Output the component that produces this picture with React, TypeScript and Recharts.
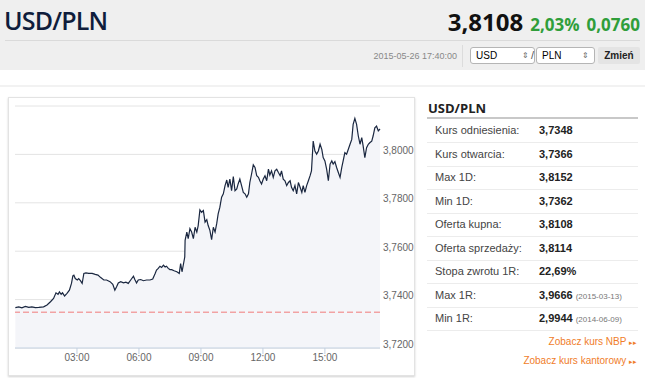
import React from 'react';
import { ComposedChart, Area, XAxis, YAxis, CartesianGrid, ReferenceLine } from 'recharts';

// minutes since 00:00
const minutes = [
  1, 11, 20, 30, 40, 49, 59, 69, 83, 93, 103, 112, 119, 125, 129, 134, 138, 144, 151, 158,
  164, 168, 171, 175, 181, 185, 190, 195, 197, 200, 206, 214, 224, 233, 241, 248, 258, 266, 276, 284,
  290, 295, 300, 307, 315, 322, 329, 336, 344, 348, 353, 358, 365, 373, 382, 392, 400, 407, 411, 416,
  421, 426, 431, 436, 440, 445, 450, 455, 462, 470, 477, 481, 485, 489, 493, 494, 499, 503, 508, 513,
  518, 523, 528, 532, 537, 542, 547, 552, 557, 561, 566, 571, 576, 581, 586, 590, 595, 600, 605, 610,
  615, 619, 624, 629, 634, 639, 644, 648, 653, 658, 663, 668, 673, 678, 682, 687, 692, 697, 702, 707,
  711, 716, 721, 726, 731, 736, 740, 745, 750, 755, 760, 765, 770, 774, 779, 784, 789, 794, 799, 803,
  808, 813, 818, 823, 828, 833, 837, 842, 847, 852, 857, 861, 866, 871, 876, 881, 886, 891, 895, 900,
  905, 910, 915, 920, 924, 929, 934, 939, 944, 949, 953, 958, 963, 968, 973, 978, 982, 987, 992, 997,
  1002, 1007, 1011, 1016, 1021, 1026, 1031, 1036, 1040, 1045, 1050, 1055, 1060,
];

const rates = [
  3.7367, 3.737, 3.7366, 3.7372, 3.7368, 3.737, 3.7367, 3.7368, 3.737, 3.7378, 3.7391, 3.7405, 3.7428, 3.7422, 3.7432, 3.7422, 3.7428, 3.7415, 3.7426, 3.7439,
  3.7467, 3.7498, 3.7501, 3.7487, 3.7481, 3.7487, 3.7478, 3.7467, 3.7483, 3.7508, 3.751, 3.7508, 3.7508, 3.7504, 3.7501, 3.7492, 3.7481, 3.7481, 3.7474, 3.7463,
  3.7439, 3.7453, 3.7469, 3.7474, 3.7469, 3.7472, 3.7467, 3.7481, 3.7497, 3.7483, 3.7469, 3.7481, 3.7483, 3.7478, 3.7481, 3.7481, 3.7485, 3.7508, 3.7522, 3.7529,
  3.7538, 3.7533, 3.7542, 3.7535, 3.7538, 3.7529, 3.7524, 3.7524, 3.7519, 3.7515, 3.7508, 3.7549, 3.7515, 3.7545, 3.7576, 3.7645, 3.7679, 3.7652, 3.7693, 3.7679,
  3.7652, 3.7699, 3.7679, 3.7706, 3.7771, 3.7761, 3.7768, 3.772, 3.773, 3.7706, 3.7686, 3.7648, 3.7699, 3.7679, 3.7716, 3.7754, 3.7782, 3.7823, 3.7837, 3.7871,
  3.7894, 3.7864, 3.7898, 3.785, 3.7908, 3.785, 3.7857, 3.7878, 3.7898, 3.7871, 3.7843, 3.7837, 3.7823, 3.7837, 3.7884, 3.7919, 3.7957, 3.7946, 3.7912, 3.7905,
  3.7891, 3.7878, 3.7898, 3.7912, 3.7891, 3.7939, 3.7915, 3.7932, 3.7905, 3.7932, 3.7939, 3.7925, 3.7912, 3.7932, 3.7898, 3.7891, 3.7871, 3.7884, 3.7891, 3.7864,
  3.785, 3.7871, 3.7837, 3.7884, 3.7864, 3.7843, 3.7871, 3.7843, 3.7871, 3.7891, 3.7912, 3.7932, 3.8055, 3.8014, 3.8001, 3.8014, 3.8042, 3.8021, 3.7987, 3.7973,
  3.7939, 3.7891, 3.796, 3.7973, 3.796, 3.797, 3.7946, 3.7925, 3.7905, 3.7946, 3.7973, 3.8007, 3.8001, 3.8021, 3.8042, 3.8062, 3.8124, 3.8149, 3.8124, 3.8076,
  3.8042, 3.8069, 3.8035, 3.7987, 3.8028, 3.8042, 3.8049, 3.8055, 3.8076, 3.811, 3.8117, 3.8097, 3.8105,
];

const timeTicks = [180, 360, 540, 720, 900];
const rateTicks = [3.72, 3.74, 3.76, 3.78, 3.8, 3.82];
const referenceRate = 3.7348;

const statLabels = ['Kurs odniesienia:', 'Kurs otwarcia:', 'Max 1D:', 'Min 1D:', 'Oferta kupna:', 'Oferta sprzedaży:', 'Stopa zwrotu 1R:', 'Max 1R:', 'Min 1R:'];
const statValues = ['3,7348', '3,7366', '3,8152', '3,7362', '3,8108', '3,8114', '22,69%', '3,9666', '2,9944'];
const statDates = ['', '', '', '', '', '', '', '(2015-03-13)', '(2014-06-09)'];

const data = minutes.map((m, i) => ({ t: m, v: rates[i] }));

const fmtTime = (m: number) => `${String(Math.floor(m / 60)).padStart(2, '0')}:00`;
const fmtRate = (v: number) => v.toFixed(4).replace('.', ',');

const sans = "'Liberation Sans', Arial, sans-serif";

// top gridline (3,82) has no label in the original
const YTick = (props: any) => {
  const { x, y, payload } = props;
  if (payload.value > 3.81) return null;
  return (
    <text x={x} y={y - 4} dy="0.35em" textAnchor="start" fontSize={10} fill="#666" fontFamily={sans}>
      {fmtRate(payload.value)}
    </text>
  );
};

export default function App() {
  return (
    <div style={{ position: 'absolute', left: 0, top: 0, width: 645, height: 378, background: '#fff', fontFamily: sans, overflow: 'hidden' }}>
      {/* header */}
      <div style={{ position: 'absolute', left: 0, top: 0, width: 645, height: 70, background: '#efefef' }} />
      <div style={{ position: 'absolute', left: 4, top: 3, fontFamily: "'Open Sans', sans-serif", fontWeight: 600, fontSize: 25, color: '#0f1d3c', letterSpacing: -0.8 }}>USD/PLN</div>
      <div style={{ position: 'absolute', right: 5, top: 5, display: 'flex', alignItems: 'baseline', gap: 7, fontFamily: "'Open Sans', sans-serif", fontWeight: 700 }}>
        <span style={{ fontSize: 24, color: '#111' }}>3,8108</span>
        <span style={{ fontSize: 17, color: '#2f9e3a' }}>2,03%</span>
        <span style={{ fontSize: 17, color: '#2f9e3a' }}>0,0760</span>
      </div>
      <div style={{ position: 'absolute', left: 5, top: 40, width: 635, height: 1, background: '#dadada' }} />
      <div style={{ position: 'absolute', right: 188, top: 51, fontSize: 9, color: '#888' }}>2015-05-26 17:40:00</div>
      <div style={{ position: 'absolute', left: 462, top: 45, width: 1, height: 22, background: '#dcdcdc' }} />
      <div style={{ position: 'absolute', left: 470, top: 47, width: 58, height: 15, border: '1px solid #b5b5b5', borderRadius: 3, background: '#fff', fontSize: 10, lineHeight: '15px', paddingLeft: 5, boxSizing: 'content-box' }}>
        USD<span style={{ position: 'absolute', right: 5, top: 0, fontSize: 8, color: '#666' }}>⇕</span>
      </div>
      <div style={{ position: 'absolute', left: 531, top: 49, fontSize: 11, color: '#555' }}>/</div>
      <div style={{ position: 'absolute', left: 536, top: 47, width: 52, height: 15, border: '1px solid #b5b5b5', borderRadius: 3, background: '#fff', fontSize: 10, lineHeight: '15px', paddingLeft: 5, boxSizing: 'content-box' }}>
        PLN<span style={{ position: 'absolute', right: 5, top: 0, fontSize: 8, color: '#666' }}>⇕</span>
      </div>
      <div style={{ position: 'absolute', left: 598, top: 47, width: 42, height: 17, background: '#e4e4e4', borderRadius: 2, fontSize: 10, fontWeight: 700, lineHeight: '17px', textAlign: 'center', color: '#222' }}>Zmień</div>
      <div style={{ position: 'absolute', left: 0, top: 85, width: 645, height: 2, background: '#f2f2f2' }} />

      {/* chart panel */}
      <div style={{ position: 'absolute', left: 8, top: 97, width: 405, height: 277, border: '1px solid #e3e3e3', boxShadow: '0 1px 2px rgba(0,0,0,0.18)' }} />
      <div style={{ position: 'absolute', left: 8, top: 98 }}>
        <ComposedChart width={407} height={278} data={data} margin={{ top: 8, right: 0, bottom: 4, left: 7 }}>
          <CartesianGrid horizontal vertical={false} stroke="#e4e4e4" />
          <XAxis
            dataKey="t"
            type="number"
            domain={[0, 1060]}
            ticks={timeTicks}
            tickFormatter={fmtTime}
            height={24}
            stroke="#c3d0e0"
            tickSize={6}
            tickMargin={0}
            tick={{ fontSize: 10, fill: '#666', fontFamily: sans }}
          />
          <YAxis
            orientation="right"
            type="number"
            domain={[3.72, 3.82]}
            ticks={rateTicks}
            width={35}
            axisLine={false}
            tickLine={false}
            tickSize={0}
            tickMargin={3}
            tick={<YTick />}
            allowDataOverflow
          />
          <Area
            dataKey="v"
            type="linear"
            stroke="#1a2740"
            strokeWidth={1.2}
            fill="#f4f5f9"
            fillOpacity={1}
            baseValue="dataMin"
            dot={false}
            activeDot={false}
            isAnimationActive={false}
          />
          <ReferenceLine y={referenceRate} stroke="#f07a7a" strokeDasharray="6 3" strokeWidth={1} />
        </ComposedChart>
      </div>

      {/* stats panel */}
      <div style={{ position: 'absolute', left: 428, top: 99, fontFamily: "'Open Sans', sans-serif", fontWeight: 700, fontSize: 13, color: '#222' }}>USD/PLN</div>
      <div style={{ position: 'absolute', left: 427, top: 117, width: 211, height: 2, background: '#c8c8c8' }} />
      {statLabels.map((label, i) => (
        <div key={label} style={{ position: 'absolute', left: 427, top: 119 + i * 23.5, width: 211, height: 23, borderBottom: '1px solid #ececec', fontSize: 11, lineHeight: '23px' }}>
          <span style={{ position: 'absolute', left: 8, color: '#444' }}>{label}</span>
          <span style={{ position: 'absolute', left: 112, color: '#222', fontWeight: 700 }}>
            {statValues[i]}
            {statDates[i] && <span style={{ fontWeight: 400, fontSize: 8, color: '#777', marginLeft: 3 }}>{statDates[i]}</span>}
          </span>
        </div>
      ))}
      <div style={{ position: 'absolute', right: 8, top: 336, fontSize: 10, color: '#f07d2a' }}>Zobacz kurs NBP <span style={{ fontSize: 7 }}>▸▸</span></div>
      <div style={{ position: 'absolute', right: 8, top: 355, fontSize: 10, color: '#f07d2a' }}>Zobacz kurs kantorowy <span style={{ fontSize: 7 }}>▸▸</span></div>
    </div>
  );
}
